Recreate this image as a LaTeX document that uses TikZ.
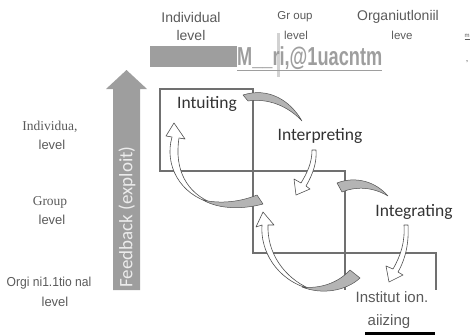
\documentclass[tikz,border=0pt]{standalone}
\usepackage{fontspec}
\setmainfont{Liberation Sans}
\newfontfamily\calfont{Carlito}
\newfontfamily\serifx{Liberation Serif}
\definecolor{txt}{HTML}{5A5A5A}
\definecolor{lab}{HTML}{333333}
\definecolor{boxc}{HTML}{707070}
\definecolor{arrg}{HTML}{9E9E9E}
\definecolor{bandg}{HTML}{B4B4B4}
\definecolor{edgec}{HTML}{505050}
\begin{document}
\begin{tikzpicture}[x=1pt,y=-1pt,
  hdr/.style={font=\fontsize{14}{14}\selectfont, text=txt, inner sep=0pt},
  hdrs/.style={font=\fontsize{11.5}{11.5}\selectfont, text=txt, inner sep=0pt},
  rowl/.style={font=\fontsize{13}{13}\selectfont, text=txt, inner sep=0pt},
  serl/.style={font=\serifx\fontsize{13.5}{13.5}\selectfont, text=txt, inner sep=0pt},
  stage/.style={font=\calfont\fontsize{17.5}{17.5}\selectfont, text=lab, inner sep=1pt},
  boxline/.style={draw=boxc, line width=1.1pt},
  band/.style={fill=bandg, draw=edgec, line width=0.5pt, line join=round},
  warrow/.style={fill=white, draw=edgec, line width=0.6pt, line join=round}]
\useasboundingbox (0,0) rectangle (473,335);

% column headers
\node[hdr] (hind1) at (191,17) {Individual};
\node[hdr] (hind2) at (191,35) {level};
\node[hdrs] (hgrp1) at (295,17) {Gr oup};
\node[hdrs] (hgrp2) at (296,35) {level};
\node[hdr] (horg1) at (398,17) {Organiutloniil};
\node[hdrs] (horg2) at (402,35) {leve};
\node[font=\fontsize{6}{6}\selectfont, text=txt, inner sep=0pt] (mk1) at (467,37) {\underline{m}};
\node[font=\fontsize{9}{9}\selectfont, text=txt, inner sep=0pt] (mk2) at (467,62) {,};

% top bar
\fill[arrg] (150,46) rectangle (237,67);
\draw[gray!35, line width=3pt] (278,33) -- (278,77);
\node[anchor=base west, font=\bfseries\fontsize{26}{26}\selectfont, text=arrg, xscale=0.7, inner sep=0pt] (bar) at (237,65) {\underline{M\_\_ri,@1uacntm}};

% row labels
\node[serl] (rind1) at (50,127) {Individua,};
\node[rowl] (rind2) at (52,145) {level};
\node[serl] (rgrp1) at (50,202) {Group};
\node[rowl] (rgrp2) at (52,220) {level};
\node[rowl, xscale=0.93] (rorg1) at (49,283) {Orgi ni1.1tio nal};
\node[rowl] (rorg2) at (55,302) {level};

% feedback arrow
\fill[arrg] (113,290) -- (113,89) -- (106,89) -- (126.5,70) -- (147,89) -- (140,89) -- (140,290) -- cycle;
\node[rotate=90, font=\calfont\fontsize{19}{19}\selectfont, text=white!85!gray, inner sep=0pt] (fb) at (127,217) {Feedback (exploit)};

% boxes
\draw[boxline] (160,89) rectangle (253,171);
\draw[boxline] (253,171) -- (345,171) -- (345,290);
\draw[boxline] (253,171) -- (253,253) -- (436,253) -- (436,290);

% curved arrows: feed-forward
\path[band] (243,95) -- (248,101) .. controls (268,98) and (288,106) .. (302,121) .. controls (290,100) and (268,87) .. (243,95) -- cycle;
\path[warrow] (312,150) .. controls (312,163) and (307,173) .. (301,183) -- (294,179) -- (296,195) -- (310,189) -- (306,186) .. controls (313,174) and (317,162) .. (316,150) -- cycle;
\path[band] (337,183) -- (342,192) .. controls (356,186) and (373,187) .. (388,196) .. controls (375,181) and (355,176) .. (337,183) -- cycle;
\path[warrow] (404,225) .. controls (405,242) and (401,255) .. (393,269) -- (386,266) -- (389,282) -- (403,275) -- (398,272) .. controls (406,258) and (409,242) .. (408,225) -- cycle;

% curved arrows: feedback
\path[warrow] (172,137) .. controls (164,165) and (180,195) .. (212,203) .. controls (187,193) and (174,170) .. (179,138) -- (185,139) -- (174,123) -- (166,136) -- cycle;
\path[band] (203,200) .. controls (220,210) and (245,209) .. (263,204) -- (257,195) .. controls (240,202) and (220,204) .. (203,200) -- cycle;
\path[warrow] (262,225) .. controls (260,250) and (276,280) .. (310,289) .. controls (283,277) and (267,252) .. (268,225) -- (274,225) -- (263,212) -- (256,227) -- cycle;
\path[band] (302,287) .. controls (322,295) and (346,291) .. (360,278) -- (350,270) .. controls (338,283) and (320,289) .. (302,287) -- cycle;

% stage labels
\node[stage] (intu) at (207,104) {Intuiting};
\node[stage, fill=white] (inter) at (320,136) {Interpreting};
\node[stage, fill=white] (integ) at (414,212) {Integrating};
\node[font=\fontsize{15}{15}\selectfont, text=txt, inner sep=0pt] (inst1) at (392,297) {Institut ion.};
\node[font=\fontsize{15}{15}\selectfont, text=txt, inner sep=0pt] (inst2) at (389,322) {aiizing};
\draw[black, line width=3pt] (365,333) -- (435,333);
\end{tikzpicture}
\end{document}
